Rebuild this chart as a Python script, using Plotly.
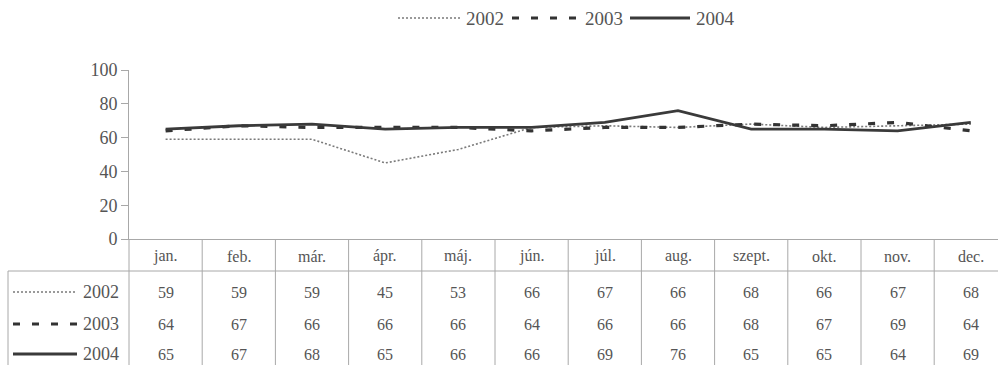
import plotly.graph_objects as go

months = ["jan.", "feb.", "már.", "ápr.", "máj.", "jún.", "júl.", "aug.", "szept.", "okt.", "nov.", "dec."]
years = ["2002", "2003", "2004"]
v2002 = [59, 59, 59, 45, 53, 66, 67, 66, 68, 66, 67, 68]
v2003 = [64, 67, 66, 66, 66, 64, 66, 66, 68, 67, 69, 64]
v2004 = [65, 67, 68, 65, 66, 66, 69, 76, 65, 65, 64, 69]
yticks = [0, 20, 40, 60, 80, 100]

series = [v2002, v2003, v2004]
styles = [
    dict(color="#7a7a7a", width=1.6, dash="2px,2px"),
    dict(color="#333333", width=3.2, dash="7px,12px"),
    dict(color="#3a3a3a", width=2.8, dash="solid"),
]

FONT = "Liberation Serif"
TXT = "#555555"
GRID = "#a8a8a8"

W, H = 998, 365
L, R, T, B = 129, 0, 70, 126
plot_w = W - L - R
plot_h = H - T - B
col_w = 73.2
xmax = -0.5 + plot_w / col_w

def py(px):  # pixel y -> paper y
    return (H - B - px) / plot_h

def px_x(px):  # pixel x -> paper x
    return (px - L) / plot_w

fig = go.Figure()
for name, vals, st in zip(years, series, styles):
    fig.add_trace(go.Scatter(x=list(range(len(months))), y=vals, name=name, mode="lines",
                             line=st, showlegend=False))

shapes = []
for k in range(1, len(months) + 1):
    shapes.append(dict(type="line", xref="x", yref="paper", x0=k - 0.5, x1=k - 0.5,
                       y0=0, y1=py(H + 5), line=dict(color=GRID, width=1)))
shapes.append(dict(type="line", xref="paper", yref="paper", x0=0, x1=0,
                   y0=0, y1=py(H + 5), line=dict(color=GRID, width=1)))
shapes.append(dict(type="line", xref="paper", yref="paper", x0=px_x(8), x1=1,
                   y0=py(271), y1=py(271), line=dict(color=GRID, width=1)))
shapes.append(dict(type="line", xref="paper", yref="paper", x0=px_x(8), x1=px_x(8),
                   y0=py(271), y1=py(H + 5), line=dict(color=GRID, width=1)))

row_y = [292, 324, 354]
annotations = []
for m_i, m in enumerate(months):
    annotations.append(dict(x=m_i, y=py(256), xref="x", yref="paper", text=m, showarrow=False,
                            yanchor="middle", font=dict(family=FONT, size=16, color=TXT)))
for r, (name, vals, st) in enumerate(zip(years, series, styles)):
    for m_i, v in enumerate(vals):
        annotations.append(dict(x=m_i, y=py(row_y[r]), xref="x", yref="paper", text=str(v),
                                showarrow=False, yanchor="middle",
                                font=dict(family=FONT, size=16, color=TXT)))
    annotations.append(dict(x=px_x(121), y=py(row_y[r]), xref="paper", yref="paper", text=name,
                            xanchor="right", yanchor="middle", showarrow=False,
                            font=dict(family=FONT, size=18, color=TXT)))
    shapes.append(dict(type="line", xref="paper", yref="paper", x0=px_x(13), x1=px_x(77),
                       y0=py(row_y[r]), y1=py(row_y[r]), line=st))

# top legend (sample line pixel spans and text starts)
leg_samples = [(398, 460), (512, 580), (630, 690)]
leg_text_x = [464, 583, 694]
leg_y = 18
for name, st, (a, b), tx in zip(years, styles, leg_samples, leg_text_x):
    shapes.append(dict(type="line", xref="paper", yref="paper", x0=px_x(a), x1=px_x(b),
                       y0=py(leg_y), y1=py(leg_y), line=st))
    annotations.append(dict(x=px_x(tx), y=py(leg_y), xref="paper", yref="paper", text=name,
                            xanchor="left", yanchor="middle", showarrow=False,
                            font=dict(family=FONT, size=19, color=TXT)))

fig.update_layout(
    width=W, height=H,
    margin=dict(l=L, r=R, t=T, b=B),
    paper_bgcolor="white", plot_bgcolor="white",
    font=dict(family=FONT, size=16, color=TXT),
    showlegend=False,
    xaxis=dict(range=[-0.5, xmax], showticklabels=False, ticks="", showgrid=False,
               zeroline=False, showline=True, linecolor=GRID, linewidth=1),
    yaxis=dict(range=[0, 100], tickvals=yticks, showgrid=False, zeroline=False,
               showline=True, linecolor=GRID, linewidth=1, ticks="outside", ticklen=7,
               tickcolor=GRID, tickfont=dict(family=FONT, size=18, color=TXT)),
    shapes=shapes,
    annotations=annotations,
)

fig.write_html("out.html")
